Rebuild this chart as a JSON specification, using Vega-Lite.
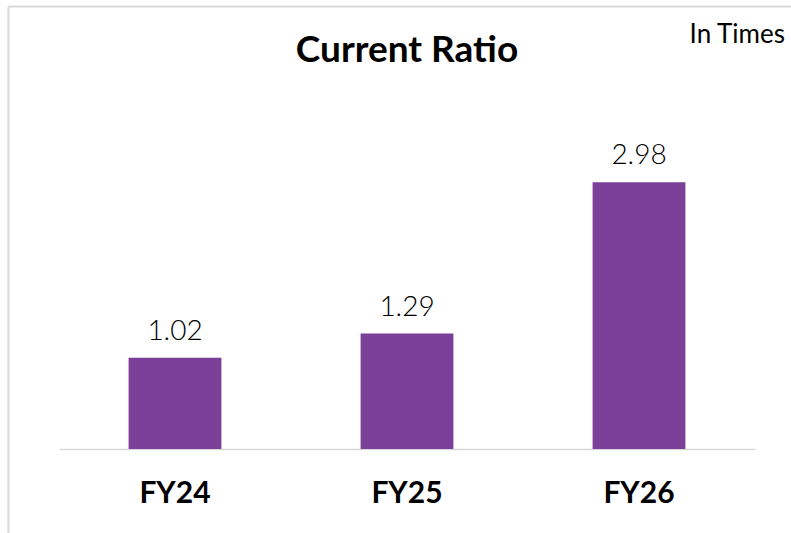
{
  "$schema": "https://vega.github.io/schema/vega-lite/v6.json",
  "autosize": "none",
  "width": 696,
  "height": 358,
  "padding": {"left": 59, "top": 91, "right": 36, "bottom": 84},
  "background": "white",
  "config": {"view": {"stroke": null}, "font": "Lato"},
  "data": {"values": [
    {"year": "FY24", "ratio": 1.02},
    {"year": "FY25", "ratio": 1.29},
    {"year": "FY26", "ratio": 2.98}
  ]},
  "layer": [
    {
      "layer": [
        {
          "mark": {"type": "bar", "color": "#7B3F99"},
          "encoding": {
            "x": {"field": "year", "type": "nominal", "sort": null, "scale": {"paddingInner": 0.6, "paddingOuter": 0.3},
              "axis": {"title": null, "labelAngle": 0, "labelFontSize": 30, "labelFontWeight": "bold", "labelColor": "#000000", "labelFont": "Lato", "ticks": false, "domainColor": "#d9d9d9", "domainWidth": 1.5, "labelPadding": 53, "labelBaseline": "alphabetic"}},
            "y": {"field": "ratio", "type": "quantitative", "scale": {"domain": [0, 4]}, "axis": null}
          }
        },
        {
          "mark": {"type": "text", "fontSize": 28, "font": "Lato", "fontWeight": 300, "color": "#000000", "baseline": "alphabetic", "dy": -18},
          "encoding": {
            "x": {"field": "year", "type": "nominal", "sort": null},
            "y": {"field": "ratio", "type": "quantitative"},
            "text": {"field": "ratio", "type": "quantitative", "format": ".2f"}
          }
        }
      ]
    },
    {
      "data": {"values": [{"part": "frame"}]},
      "layer": [
        {
          "mark": {"type": "rule", "color": "#d9d9d9", "strokeWidth": 2},
          "encoding": {
            "x": {"datum": -0.0726, "type": "quantitative", "scale": {"domain": [0, 1]}, "axis": null},
            "y": {"datum": 4.944, "type": "quantitative"},
            "y2": {"datum": -0.95}
          }
        },
        {
          "mark": {"type": "rule", "color": "#d9d9d9", "strokeWidth": 2},
          "encoding": {
            "x": {"datum": -0.0726, "type": "quantitative", "scale": {"domain": [0, 1]}, "axis": null},
            "x2": {"datum": 1.06},
            "y": {"datum": 4.944, "type": "quantitative"}
          }
        },
        {
          "mark": {"type": "text", "text": "Current Ratio", "fontSize": 37, "font": "Lato", "fontWeight": "bold", "color": "#000000", "align": "center", "baseline": "alphabetic"},
          "encoding": {
            "x": {"datum": 0.5, "type": "quantitative", "scale": {"domain": [0, 1]}, "axis": null},
            "y": {"datum": 4.324, "type": "quantitative"}
          }
        },
        {
          "mark": {"type": "text", "text": "In Times", "fontSize": 26, "font": "Lato", "fontWeight": "normal", "color": "#000000", "align": "right", "baseline": "alphabetic"},
          "encoding": {
            "x": {"datum": 1.043, "type": "quantitative", "scale": {"domain": [0, 1]}, "axis": null},
            "y": {"datum": 4.536, "type": "quantitative"}
          }
        }
      ]
    }
  ],
  "resolve": {"scale": {"x": "independent"}}
}
